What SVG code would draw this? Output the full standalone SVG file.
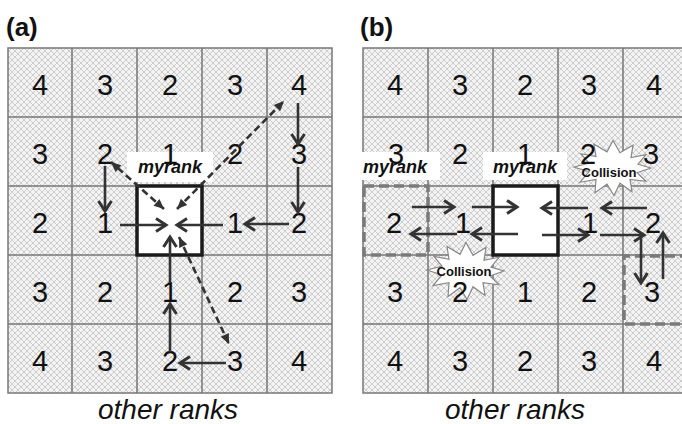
<svg xmlns="http://www.w3.org/2000/svg" width="682" height="424" viewBox="0 0 682 424">
  <defs>
    <pattern id="hatch" width="6" height="6" patternUnits="userSpaceOnUse">
      <rect width="6" height="6" fill="#f3f3f3"/>
      <path d="M0,0 L6,6 M6,0 L0,6" stroke="#cdcdcd" stroke-width="1"/>
    </pattern>
    <marker id="vhead" markerUnits="userSpaceOnUse" markerWidth="16" markerHeight="16" viewBox="0 0 16 16" refX="13" refY="8" orient="auto">
      <path d="M3,1.5 L13,8 L3,14.5" fill="none" stroke="#333" stroke-width="3" stroke-linejoin="miter"/>
    </marker>
    <marker id="tri" markerUnits="userSpaceOnUse" markerWidth="12" markerHeight="12" viewBox="0 0 12 12" refX="11" refY="6" orient="auto-start-reverse">
      <path d="M1,1.5 L11,6 L1,10.5 Z" fill="#333"/>
    </marker>
    <polygon id="burst" points="38,0 24,5 33,14 17,12 19,25 7,16 1,29 -6,17 -18,26 -17,12 -33,15 -24,4 -39,-1 -24,-5 -32,-15 -17,-12 -19,-25 -6,-17 0,-29 7,-16 20,-24 18,-11 33,-14 25,-4"/>
  </defs>
  <style>
    .grid { fill: url(#hatch); stroke: #777; stroke-width: 1.5; }
    .gline { stroke: #777; stroke-width: 1.5; fill: none; }
    .me { fill: #fff; stroke: #1a1a1a; stroke-width: 3.5; }
    .num { font-family: "Liberation Sans", Arial, sans-serif; font-size: 29px; fill: #111; text-anchor: middle; }
    .title { font-family: "Liberation Sans", Arial, sans-serif; font-size: 26px; font-weight: bold; fill: #111; }
    .lblbg { fill: #fff; }
    .lbl { font-family: "Liberation Sans", Arial, sans-serif; font-size: 18px; font-weight: bold; font-style: italic; fill: #111; text-anchor: middle; }
    .foot { font-family: "Liberation Sans", Arial, sans-serif; font-size: 28px; font-style: italic; fill: #111; text-anchor: middle; }
    .solid { stroke: #333; stroke-width: 2.6; fill: none; marker-end: url(#vhead); }
    .dash { stroke: #333; stroke-width: 2.6; fill: none; stroke-dasharray: 7 4; marker-start: url(#tri); marker-end: url(#tri); }
    .zone { fill: none; stroke: #7a7a7a; stroke-width: 3.5; stroke-dasharray: 10 5; }
    .burst { fill: #fff; stroke: #888; stroke-width: 1.2; }
    .coll { font-family: "Liberation Sans", Arial, sans-serif; font-size: 13px; font-weight: bold; fill: #111; text-anchor: middle; }
  </style>

  <rect width="682" height="424" fill="#fff"/>

  <!-- panel (a) -->
  <g id="panel-a">
    <text class="title" x="6" y="36">(a)</text>
    <g id="grid-a">
      <rect class="grid" x="8" y="48" width="324" height="345"/>
      <path class="gline" d="M72,48 V393 M137,48 V393 M202,48 V393 M267,48 V393 M8,117 H332 M8,186 H332 M8,255 H332 M8,324 H332"/>
    </g>
    <g id="a-myrank-cell"><rect class="me" x="137" y="186" width="65" height="69"/></g>
    <rect class="lblbg" x="127" y="152" width="86" height="30"/>
    <g id="a-ranks">
      <text class="num" x="40" y="95">4</text><text class="num" x="105" y="95">3</text><text class="num" x="170" y="95">2</text><text class="num" x="235" y="95">3</text><text class="num" x="299" y="95">4</text>
      <text class="num" x="40" y="164">3</text><text class="num" x="105" y="164">2</text><text class="num" x="170" y="164">1</text><text class="num" x="235" y="164">2</text><text class="num" x="299" y="164">3</text>
      <text class="num" x="40" y="233">2</text><text class="num" x="105" y="233" fill="#555">1</text><text class="num" x="235" y="233">1</text><text class="num" x="299" y="233">2</text>
      <text class="num" x="40" y="302">3</text><text class="num" x="105" y="302">2</text><text class="num" x="170" y="302">1</text><text class="num" x="235" y="302">2</text><text class="num" x="299" y="302">3</text>
      <text class="num" x="40" y="371">4</text><text class="num" x="105" y="371">3</text><text class="num" x="170" y="371">2</text><text class="num" x="235" y="371">3</text><text class="num" x="299" y="371">4</text>
    </g>
    <text class="lbl" x="170" y="173">myrank</text>
    <g id="a-connectors">
      <line class="solid" x1="105" y1="166" x2="105" y2="211"/>
      <line class="solid" x1="120" y1="225" x2="166" y2="225"/>
      <line class="solid" x1="223" y1="225" x2="177" y2="225"/>
      <line class="solid" x1="289" y1="224" x2="245" y2="224"/>
      <line class="solid" x1="298" y1="103" x2="298" y2="144"/>
      <line class="solid" x1="298" y1="167" x2="298" y2="212"/>
      <line class="solid" x1="170" y1="283" x2="170" y2="237"/>
      <line class="solid" x1="170" y1="352" x2="170" y2="304"/>
      <line class="solid" x1="226" y1="363" x2="180" y2="363"/>
      <line class="dash" x1="164" y1="209" x2="111" y2="162"/>
      <line class="dash" x1="177" y1="209" x2="284" y2="101"/>
      <line class="dash" x1="179" y1="237" x2="229" y2="344"/>
    </g>
    <text class="foot" x="168" y="419">other ranks</text>
  </g>

  <!-- panel (b) -->
  <g id="panel-b">
    <text class="title" x="360" y="36">(b)</text>
    <g id="grid-b">
      <rect class="grid" x="363" y="48" width="330" height="345"/>
      <path class="gline" d="M428,48 V393 M493,48 V393 M558,48 V393 M623,48 V393 M363,117 H693 M363,186 H693 M363,255 H693 M363,324 H693"/>
    </g>
    <g id="b-myrank-cell"><rect class="me" x="493" y="186" width="65" height="69"/></g>
    <g id="b-zones">
      <rect class="zone" x="364" y="186" width="64" height="69"/>
      <path class="zone" d="M690,256 H624 V324 H690"/>
    </g>
    <g id="collision-1"><use href="#burst" class="burst" transform="translate(613,168) scale(1,0.95)"/></g>
    <g id="collision-2"><use href="#burst" class="burst" transform="translate(466,271) scale(1,0.98)"/></g>
    <rect class="lblbg" x="359" y="152" width="81" height="28"/>
    <rect class="lblbg" x="483" y="152" width="84" height="28"/>
    <g id="b-ranks">
      <text class="num" x="395" y="95">4</text><text class="num" x="460" y="95">3</text><text class="num" x="525" y="95">2</text><text class="num" x="589" y="95">3</text><text class="num" x="654" y="95">4</text>
      <text class="num" x="396" y="164">3</text><text class="num" x="460" y="164">2</text><text class="num" x="525" y="164">1</text><text class="num" x="588" y="164">2</text><text class="num" x="651" y="164">3</text>
      <text class="num" x="394" y="233">2</text><text class="num" x="463" y="233" fill="#555">1</text><text class="num" x="590" y="233" fill="#555">1</text><text class="num" x="653" y="233">2</text>
      <text class="num" x="395" y="302">3</text><text class="num" x="460" y="302">2</text><text class="num" x="525" y="302">1</text><text class="num" x="589" y="302">2</text><text class="num" x="652" y="302">3</text>
      <text class="num" x="395" y="371">4</text><text class="num" x="460" y="371">3</text><text class="num" x="525" y="371">2</text><text class="num" x="589" y="371">3</text><text class="num" x="654" y="371">4</text>
    </g>
    <text class="lbl" x="395" y="173">myrank</text>
    <text class="lbl" x="525" y="173">myrank</text>
    <text class="coll" x="609" y="177">Collision</text>
    <text class="coll" x="464" y="276">Collision</text>
    <g id="b-connectors">
      <line class="solid" x1="412" y1="207" x2="454" y2="207"/>
      <line class="solid" x1="472" y1="207" x2="517" y2="207"/>
      <line class="solid" x1="518" y1="234" x2="472" y2="234"/>
      <line class="solid" x1="457" y1="234" x2="411" y2="234"/>
      <line class="solid" x1="588" y1="208" x2="542" y2="208"/>
      <line class="solid" x1="647" y1="208" x2="602" y2="208"/>
      <line class="solid" x1="542" y1="235" x2="588" y2="235"/>
      <line class="solid" x1="600" y1="235" x2="644" y2="235"/>
      <line class="solid" x1="641" y1="236" x2="641" y2="283"/>
      <line class="solid" x1="663" y1="279" x2="663" y2="233"/>
    </g>
    <text class="foot" x="515" y="419">other ranks</text>
  </g>
</svg>
